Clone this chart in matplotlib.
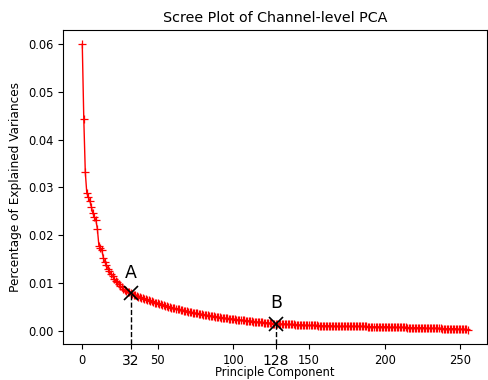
import matplotlib
matplotlib.use("Agg")
import matplotlib.pyplot as plt

# explained variance ratio per principal component (index 0..255)
variance = [
    0.0600, 0.0444, 0.0332, 0.0288, 0.0280, 0.0272, 0.0260, 0.0246, 0.0238, 0.0232,
    0.0213, 0.0178, 0.0174, 0.0168, 0.0152, 0.0144, 0.0137, 0.0130, 0.0124, 0.0119,
    0.0114, 0.0109, 0.0105, 0.0101, 0.0097, 0.0094, 0.0091, 0.0088, 0.0086, 0.0083,
    0.0081, 0.0080, 0.0078, 0.0077, 0.0075, 0.0074, 0.0072, 0.0071, 0.0070, 0.0069,
    0.0068, 0.0067, 0.0066, 0.0065, 0.0064, 0.0063, 0.0062, 0.0060, 0.0059, 0.0058,
    0.0057, 0.0056, 0.0055, 0.0054, 0.0053, 0.0052, 0.0051, 0.0050, 0.0049, 0.0048,
    0.0047, 0.0047, 0.0046, 0.0045, 0.0045, 0.0044, 0.0043, 0.0042, 0.0042, 0.0041,
    0.0040, 0.0039, 0.0039, 0.0038, 0.0037, 0.0036, 0.0036, 0.0035, 0.0034, 0.0034,
    0.0033, 0.0033, 0.0032, 0.0032, 0.0031, 0.0031, 0.0030, 0.0030, 0.0029, 0.0029,
    0.0028, 0.0028, 0.0027, 0.0027, 0.0026, 0.0026, 0.0026, 0.0025, 0.0025, 0.0024,
    0.0024, 0.0024, 0.0023, 0.0023, 0.0023, 0.0022, 0.0022, 0.0022, 0.0021, 0.0021,
    0.0020, 0.0020, 0.0020, 0.0019, 0.0019, 0.0019, 0.0018, 0.0018, 0.0018, 0.0018,
    0.0017, 0.0017, 0.00165, 0.0016, 0.0016, 0.0016, 0.0015, 0.0015, 0.0015, 0.0015,
    0.0014, 0.0014, 0.0014, 0.0014, 0.0014, 0.0013, 0.0013, 0.0013, 0.0013, 0.0013,
    0.0013, 0.0012, 0.0012, 0.0012, 0.0012, 0.0012, 0.0012, 0.0011, 0.0011, 0.0011,
    0.0011, 0.0011, 0.0011, 0.0011, 0.0011, 0.0011, 0.0010, 0.0010, 0.0010, 0.0010,
    0.0010, 0.0010, 0.0010, 0.0010, 0.0010, 0.0010, 0.0010, 0.0009, 0.0009, 0.0009,
    0.0009, 0.0009, 0.0009, 0.0009, 0.0009, 0.0009, 0.0009, 0.0009, 0.0009, 0.0009,
    0.0009, 0.0009, 0.0009, 0.0009, 0.0009, 0.0009, 0.0009, 0.0009, 0.0009, 0.0008,
    0.0008, 0.0008, 0.0008, 0.0008, 0.0008, 0.0008, 0.0008, 0.0008, 0.0008, 0.0008,
    0.0008, 0.0008, 0.0008, 0.0007, 0.0007, 0.0007, 0.0007, 0.0007, 0.0007, 0.0007,
    0.0007, 0.0007, 0.0007, 0.0007, 0.0007, 0.0006, 0.0006, 0.0006, 0.0006, 0.0006,
    0.0006, 0.0006, 0.0006, 0.0006, 0.0006, 0.0006, 0.0006, 0.0005, 0.0005, 0.0005,
    0.0005, 0.0005, 0.0005, 0.0005, 0.0005, 0.0005, 0.0005, 0.0005, 0.0004, 0.0004,
    0.0004, 0.0004, 0.0004, 0.0004, 0.0004, 0.0004, 0.0004, 0.0004, 0.0003, 0.0003,
    0.0003, 0.0003, 0.0003, 0.0003, 0.0003, 0.0002,
]
components = list(range(len(variance)))

marked_components = [32, 128]
marked_labels = ["A", "B"]
major_xticks = [0, 50, 100, 150, 200, 250]
yticks = [0.00, 0.01, 0.02, 0.03, 0.04, 0.05, 0.06]

fig = plt.figure(figsize=(4.89, 3.80), dpi=100)
ax = fig.add_axes([63 / 489, 36 / 380, 424 / 489, 314 / 380])

ax.plot(components, variance, color="red", marker="+", markersize=5.5,
        markeredgewidth=0.9, linewidth=1.0)

ylo, yhi = ax.get_ylim()

for comp, lab in zip(marked_components, marked_labels):
    val = variance[comp]
    ax.plot([comp], [val], marker="x", color="black", markersize=10,
            markeredgewidth=1.2, linestyle="none")
    ax.vlines(comp, ylo, val, colors="black", linestyles="--", linewidth=1.0)
    ax.annotate(lab, (comp, val), xytext=(0, 8), textcoords="offset points",
                ha="center", va="bottom", fontsize=12.5)

ax.set_ylim(ylo, yhi)
all_xticks = sorted(major_xticks + marked_components)
ax.set_xticks(all_xticks)
ax.set_xticklabels([str(t) for t in all_xticks])
ax.tick_params(axis="both", labelsize=8.3)
for t, lbl in zip(all_xticks, ax.get_xticklabels()):
    if t in marked_components:
        lbl.set_fontsize(10)
ax.set_yticks(yticks)
ax.set_yticklabels([f"{v:.2f}" for v in yticks])

ax.set_title("Scree Plot of Channel-level PCA", fontsize=10.3)
ax.set_ylabel("Percentage of Explained Variances", fontsize=8.7)
ax.set_xlabel("Principle Component", fontsize=8.3, labelpad=-1)

fig.savefig("out.png", dpi=100)
